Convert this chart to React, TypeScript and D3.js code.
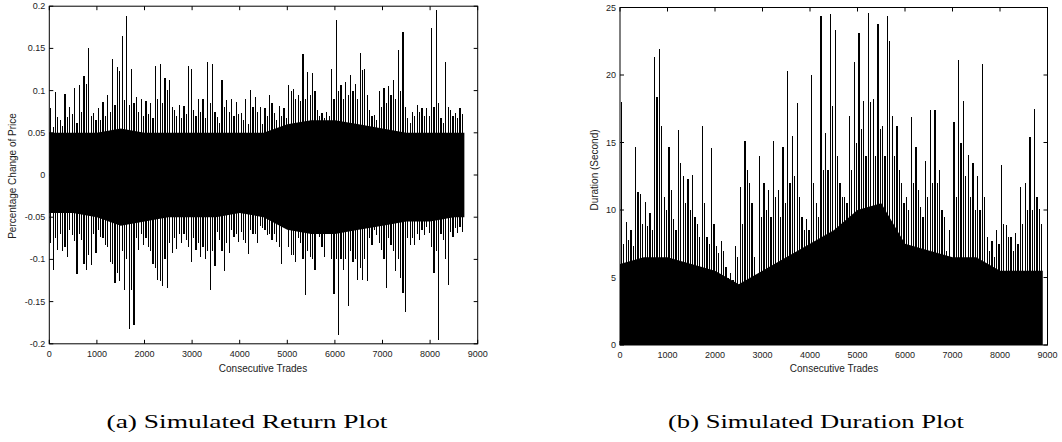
import React from "react";
import * as d3 from "d3";

// ---- Data ----
// Panel (a): per-100-trade bucket extremes of the simulated return
const retBucketSize = 100;
const retHigh = [
  0.079, 0.098, 0.065, 0.096, 0.08, 0.103, 0.107, 0.117, 0.151, 0.073,
  0.079, 0.086, 0.095, 0.137, 0.128, 0.165, 0.188, 0.126, 0.093, 0.09,
  0.088, 0.085, 0.129, 0.132, 0.115, 0.113, 0.077, 0.083, 0.082, 0.129,
  0.077, 0.09, 0.09, 0.134, 0.132, 0.069, 0.113, 0.089, 0.09, 0.087,
  0.073, 0.09, 0.101, 0.093, 0.08, 0.079, 0.095, 0.073, 0.082, 0.079,
  0.107, 0.102, 0.095, 0.143, 0.122, 0.121, 0.077, 0.073, 0.075, 0.126,
  0.184, 0.107, 0.11, 0.118, 0.108, 0.144, 0.126, 0.077, 0.071, 0.1,
  0.103, 0.106, 0.113, 0.148, 0.169, 0.067, 0.075, 0.083, 0.079, 0.079,
  0.174, 0.196, 0.067, 0.134, 0.077, 0.073, 0.079,
];
// second-highest peak in each bucket
const retHigh2 = [
  0.057, 0.069, 0.058, 0.069, 0.072, 0.062, 0.075, 0.108, 0.07, 0.065,
  0.065, 0.07, 0.075, 0.083, 0.123, 0.089, 0.083, 0.085, 0.075, 0.07,
  0.072, 0.068, 0.09, 0.085, 0.101, 0.08, 0.07, 0.068, 0.072, 0.126,
  0.07, 0.075, 0.068, 0.085, 0.075, 0.062, 0.08, 0.075, 0.07, 0.072,
  0.065, 0.06, 0.08, 0.075, 0.06, 0.07, 0.085, 0.065, 0.07, 0.068,
  0.1, 0.09, 0.088, 0.09, 0.095, 0.1, 0.07, 0.068, 0.07, 0.09,
  0.1, 0.09, 0.095, 0.1, 0.09, 0.125, 0.095, 0.07, 0.065, 0.08,
  0.085, 0.095, 0.09, 0.1, 0.08, 0.062, 0.07, 0.075, 0.07, 0.07,
  0.08, 0.085, 0.062, 0.08, 0.07, 0.068, 0.072,
];
const retLow = [
  -0.112, -0.089, -0.09, -0.097, -0.071, -0.117, -0.077, -0.112, -0.107, -0.093,
  -0.073, -0.083, -0.103, -0.128, -0.126, -0.136, -0.182, -0.178, -0.089, -0.083,
  -0.085, -0.105, -0.124, -0.132, -0.134, -0.092, -0.088, -0.081, -0.077, -0.103,
  -0.089, -0.097, -0.1, -0.136, -0.108, -0.077, -0.114, -0.093, -0.073, -0.079,
  -0.077, -0.094, -0.07, -0.081, -0.063, -0.071, -0.077, -0.079, -0.105, -0.063,
  -0.095, -0.103, -0.081, -0.142, -0.097, -0.112, -0.073, -0.097, -0.063, -0.141,
  -0.189, -0.112, -0.155, -0.103, -0.124, -0.124, -0.126, -0.083, -0.071, -0.089,
  -0.134, -0.083, -0.114, -0.122, -0.162, -0.083, -0.083, -0.077, -0.071, -0.069,
  -0.116, -0.195, -0.077, -0.13, -0.073, -0.069, -0.067,
];
// second-deepest trough in each bucket
const retLow2 = [
  -0.08, -0.075, -0.07, -0.085, -0.065, -0.078, -0.07, -0.105, -0.095, -0.07,
  -0.065, -0.075, -0.085, -0.105, -0.116, -0.09, -0.1, -0.136, -0.075, -0.07,
  -0.075, -0.09, -0.11, -0.125, -0.1, -0.08, -0.075, -0.07, -0.07, -0.085,
  -0.075, -0.08, -0.085, -0.09, -0.09, -0.068, -0.09, -0.08, -0.065, -0.07,
  -0.068, -0.08, -0.065, -0.07, -0.06, -0.065, -0.07, -0.07, -0.085, -0.06,
  -0.085, -0.095, -0.075, -0.1, -0.09, -0.1, -0.07, -0.085, -0.06, -0.1,
  -0.1, -0.1, -0.1, -0.09, -0.1, -0.11, -0.1, -0.075, -0.065, -0.08,
  -0.1, -0.075, -0.09, -0.1, -0.14, -0.075, -0.075, -0.07, -0.065, -0.062,
  -0.085, -0.09, -0.07, -0.1, -0.068, -0.063, -0.062,
];
// dense core band of the return series, per 500 trades
const retBodySize = 500;
const retBodyHi = [0.05, 0.05, 0.05, 0.055, 0.05, 0.05, 0.05, 0.05, 0.05, 0.05, 0.06, 0.065, 0.065, 0.06, 0.055, 0.05, 0.05, 0.05];
const retBodyLo = [-0.045, -0.045, -0.05, -0.06, -0.055, -0.05, -0.05, -0.05, -0.045, -0.05, -0.065, -0.07, -0.07, -0.065, -0.06, -0.055, -0.055, -0.05];
const retEnd = 8720;

// Panel (b): per-100-trade bucket maxima of the simulated duration
const durBucketSize = 100;
const durHigh = [
  18.0, 9.1, 8.5, 14.7, 11.2, 10.6, 9.8, 21.3, 21.9, 11.0,
  14.7, 9.3, 15.9, 12.5, 12.3, 12.6, 9.0, 16.2, 8.0, 14.6,
  7.3, 7.7, 5.8, 5.3, 7.3, 11.7, 15.1, 12.0, 6.5, 14.0,
  12.0, 11.5, 15.1, 11.5, 14.7, 20.3, 15.5, 17.9, 9.5, 9.3,
  20.0, 10.5, 24.4, 15.7, 24.5, 23.3, 12.0, 11.0, 17.0, 21.0,
  23.1, 18.1, 24.6, 18.2, 23.8, 16.2, 24.4, 17.0, 16.2, 12.0,
  11.0, 16.9, 14.7, 10.2, 13.6, 17.4, 17.4, 13.0, 9.5, 8.5,
  16.5, 21.1, 18.1, 14.1, 13.5, 12.5, 20.8, 8.0, 7.7, 8.5,
  13.3, 8.9, 8.0, 8.3, 11.7, 12.0, 15.4, 17.5, 10.1,
];
// second-highest peak in each bucket
const durHigh2 = [
  7.5, 7.8, 7.3, 11.3, 9.0, 8.8, 8.5, 18.4, 16.2, 10.0,
  11.5, 8.5, 13.5, 10.5, 10.0, 9.5, 8.0, 10.5, 7.5, 9.0,
  6.8, 7.0, 5.0, 4.8, 6.5, 9.0, 13.0, 10.5, 4.0, 9.5,
  10.0, 9.5, 11.0, 9.5, 10.5, 12.0, 12.5, 11.0, 8.5, 8.5,
  12.0, 9.5, 13.0, 13.0, 17.7, 14.0, 11.0, 10.5, 13.0, 15.0,
  16.0, 14.0, 18.0, 14.0, 16.0, 14.0, 22.5, 14.0, 13.0, 10.5,
  10.0, 12.0, 11.5, 9.5, 11.0, 12.0, 12.0, 10.0, 7.0, 5.0,
  11.0, 15.0, 12.5, 11.0, 10.0, 10.0, 11.0, 7.0, 6.5, 7.5,
  9.0, 8.0, 7.0, 7.5, 9.0, 10.0, 10.0, 11.0, 9.0,
];
const durBodySize = 500;
const durBody = [6.0, 6.5, 6.5, 6.0, 5.5, 4.5, 5.5, 6.5, 7.5, 8.5, 10.0, 10.5, 7.5, 7.0, 6.5, 6.5, 5.5, 5.5];
const durEnd = 8900;

const xTicks = [0, 1000, 2000, 3000, 4000, 5000, 6000, 7000, 8000, 9000];
const retYTicks = [-0.2, -0.15, -0.1, -0.05, 0, 0.05, 0.1, 0.15, 0.2];
const durYTicks = [0, 5, 10, 15, 20, 25];

const FONT = "'Liberation Sans', Arial, Helvetica, sans-serif";
const SERIF = "'Liberation Serif', 'Times New Roman', serif";

function Frame({ x, y, xTickVals, yTickVals, yFmt }: any) {
  const [x0, x1] = x.range();
  const [y0, y1] = y.range(); // y0 bottom, y1 top
  const tl = 4;
  return (
    <g>
      <rect x={x0} y={y1} width={x1 - x0} height={y0 - y1} fill="none" stroke="#000" strokeWidth={1} />
      {xTickVals.map((t: number) => (
        <g key={"x" + t}>
          <line x1={x(t)} x2={x(t)} y1={y0} y2={y0 - tl} stroke="#000" />
          <line x1={x(t)} x2={x(t)} y1={y1} y2={y1 + tl} stroke="#000" />
          <text x={x(t)} y={y0 + 13} fontSize={9} fontFamily={FONT} textAnchor="middle" fill="#222">
            {t}
          </text>
        </g>
      ))}
      {yTickVals.map((t: number) => (
        <g key={"y" + t}>
          <line x1={x0} x2={x0 + tl} y1={y(t)} y2={y(t)} stroke="#000" />
          <line x1={x1} x2={x1 - tl} y1={y(t)} y2={y(t)} stroke="#000" />
          <text x={x0 - 4} y={y(t) + 3} fontSize={9} fontFamily={FONT} textAnchor="end" fill="#222">
            {yFmt(t)}
          </text>
        </g>
      ))}
    </g>
  );
}

export default function App() {
  const xa = d3.scaleLinear().domain([0, 9000]).range([49.3, 477.7]);
  const ya = d3.scaleLinear().domain([-0.2, 0.2]).range([343.8, 6.2]);
  const xb = d3.scaleLinear().domain([0, 9000]).range([620, 1047.5]);
  const yb = d3.scaleLinear().domain([0, 25]).range([345, 7.5]);

  const retBodyPts = retBodyHi.map((h, i) => ({ t: i * retBodySize, hi: h, lo: retBodyLo[i] }));
  retBodyPts.push({ t: retEnd, hi: retBodyHi[retBodyHi.length - 1], lo: retBodyLo[retBodyLo.length - 1] });
  const retArea = d3
    .area<any>()
    .x((d) => xa(d.t))
    .y0((d) => ya(d.lo))
    .y1((d) => ya(d.hi))
    .curve(d3.curveLinear)(retBodyPts);

  const durBodyPts = durBody.map((h, i) => ({ t: i * durBodySize, hi: h }));
  durBodyPts.push({ t: durEnd, hi: durBody[durBody.length - 1] });
  const durArea = d3
    .area<any>()
    .x((d) => xb(d.t))
    .y0(() => yb(0))
    .y1((d) => yb(d.hi))
    .curve(d3.curveLinear)(durBodyPts);

  const fmtRet = (v: number) => (v === 0 ? "0" : String(+v.toFixed(2)));
  const fmtDur = (v: number) => String(v);
  const sw = 1.2;

  return (
    <svg width={1062} height={442} style={{ position: "absolute", left: 0, top: 0, background: "#fff" }}>
      {/* Panel (a) */}
      <path d={retArea || ""} fill="#000" />
      <g shapeRendering="crispEdges">
        {retHigh.map((h, i) => {
          const t1 = i * retBucketSize + 30;
          const t2 = i * retBucketSize + 80;
          return (
            <g key={"ra" + i}>
              <line x1={xa(t1)} x2={xa(t1)} y1={ya(0)} y2={ya(h)} stroke="#000" strokeWidth={sw} />
              <line x1={xa(t2)} x2={xa(t2)} y1={ya(0)} y2={ya(retHigh2[i])} stroke="#000" strokeWidth={sw} />
              <line x1={xa(t2)} x2={xa(t2)} y1={ya(0)} y2={ya(retLow[i])} stroke="#000" strokeWidth={sw} />
              <line x1={xa(t1)} x2={xa(t1)} y1={ya(0)} y2={ya(retLow2[i])} stroke="#000" strokeWidth={sw} />
            </g>
          );
        })}
      </g>
      <Frame x={xa} y={ya} xTickVals={xTicks} yTickVals={retYTicks} yFmt={fmtRet} />
      <text x={263} y={372} fontSize={10} fontFamily={FONT} textAnchor="middle" fill="#222">
        Consecutive Trades
      </text>
      <text transform="translate(16,176) rotate(-90)" fontSize={10} fontFamily={FONT} textAnchor="middle" fill="#222">
        Percentage Change of Price
      </text>

      {/* Panel (b) */}
      <path d={durArea || ""} fill="#000" />
      <g shapeRendering="crispEdges">
        {durHigh.map((h, i) => {
          const t1 = i * durBucketSize + 30;
          const t2 = i * durBucketSize + 80;
          return (
            <g key={"db" + i}>
              <line x1={xb(t1)} x2={xb(t1)} y1={yb(0)} y2={yb(h)} stroke="#000" strokeWidth={sw} />
              <line x1={xb(t2)} x2={xb(t2)} y1={yb(0)} y2={yb(durHigh2[i])} stroke="#000" strokeWidth={sw} />
            </g>
          );
        })}
      </g>
      <Frame x={xb} y={yb} xTickVals={xTicks} yTickVals={durYTicks} yFmt={fmtDur} />
      <text x={834} y={372} fontSize={10} fontFamily={FONT} textAnchor="middle" fill="#222">
        Consecutive Trades
      </text>
      <text transform="translate(598,170) rotate(-90)" fontSize={10} fontFamily={FONT} textAnchor="middle" fill="#222">
        Duration (Second)
      </text>

      {/* Captions */}
      <text x={247} y={428} fontSize={19} fontFamily={SERIF} textAnchor="middle" fill="#000" textLength={281} lengthAdjust="spacingAndGlyphs">
        (a) Simulated Return Plot
      </text>
      <text x={816} y={428} fontSize={19} fontFamily={SERIF} textAnchor="middle" fill="#000" textLength={296} lengthAdjust="spacingAndGlyphs">
        (b) Simulated Duration Plot
      </text>
    </svg>
  );
}
